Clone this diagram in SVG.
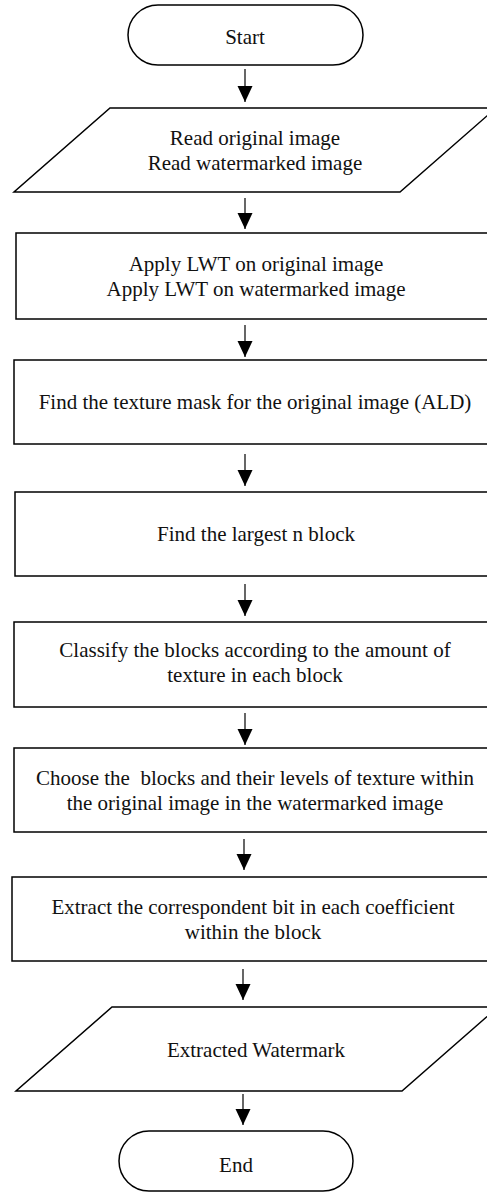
<svg xmlns="http://www.w3.org/2000/svg" width="487" height="1192" viewBox="0 0 487 1192">
<style>
.s{fill:#fff;stroke:#000;stroke-width:1.5}
.t{font-family:"Liberation Serif","Times New Roman",serif;font-size:21px;fill:#111;text-anchor:middle}
.c{stroke:#000;stroke-width:1.2;fill:none}
</style>
<defs>
<marker id="ah" markerUnits="userSpaceOnUse" markerWidth="16" markerHeight="16" refX="16" refY="7.5" orient="auto">
<path d="M0,0 L16,7.5 L0,15 z" fill="#000"/>
</marker>
</defs>
<rect width="487" height="1192" fill="#fff"/>
<g id="start">
<rect class="s" x="128" y="5" width="235" height="60" rx="30" ry="30"/>
<text class="t" x="245" y="44">Start</text>
</g>
<g id="read">
<polygon class="s" points="110,108 496,108 400,192 14,192"/>
<text class="t" x="255" y="145">Read original image</text>
<text class="t" x="255" y="170">Read watermarked image</text>
</g>
<g id="lwt">
<rect class="s" x="16" y="233" width="481" height="86"/>
<text class="t" x="256" y="271">Apply LWT on original image</text>
<text class="t" x="256" y="296">Apply LWT on watermarked image</text>
</g>
<g id="mask">
<rect class="s" x="14" y="360" width="483" height="84"/>
<text class="t" x="255" y="409">Find the texture mask for the original image (ALD)</text>
</g>
<g id="largest">
<rect class="s" x="15" y="492" width="482" height="84"/>
<text class="t" x="256" y="541">Find the largest n block</text>
</g>
<g id="classify">
<rect class="s" x="14" y="622" width="483" height="85"/>
<text class="t" x="255" y="657">Classify the blocks according to the amount of</text>
<text class="t" x="255" y="682">texture in each block</text>
</g>
<g id="choose">
<rect class="s" x="14" y="748" width="483" height="84"/>
<text class="t" x="255" y="785" style="white-space:pre">Choose the  blocks and their levels of texture within</text>
<text class="t" x="255" y="810">the original image in the watermarked image</text>
</g>
<g id="extract">
<rect class="s" x="12" y="877" width="485" height="84"/>
<text class="t" x="253" y="914">Extract the correspondent bit in each coefficient</text>
<text class="t" x="253" y="939">within the block</text>
</g>
<g id="output">
<polygon class="s" points="112,1007 498,1007 402,1091 16,1091"/>
<text class="t" x="256" y="1057">Extracted Watermark</text>
</g>
<g id="end">
<rect class="s" x="119" y="1131" width="234" height="60" rx="30" ry="30"/>
<text class="t" x="236" y="1172">End</text>
</g>
<g id="connectors">
<line class="c" x1="245" y1="69" x2="245" y2="102" marker-end="url(#ah)"/>
<line class="c" x1="245" y1="198" x2="245" y2="229" marker-end="url(#ah)"/>
<line class="c" x1="245" y1="325" x2="245" y2="357" marker-end="url(#ah)"/>
<line class="c" x1="245" y1="454" x2="245" y2="486" marker-end="url(#ah)"/>
<line class="c" x1="245" y1="584" x2="245" y2="616" marker-end="url(#ah)"/>
<line class="c" x1="245" y1="713" x2="245" y2="745" marker-end="url(#ah)"/>
<line class="c" x1="244" y1="839" x2="244" y2="870" marker-end="url(#ah)"/>
<line class="c" x1="243" y1="969" x2="243" y2="1000" marker-end="url(#ah)"/>
<line class="c" x1="243" y1="1094" x2="243" y2="1125" marker-end="url(#ah)"/>
</g>
</svg>
